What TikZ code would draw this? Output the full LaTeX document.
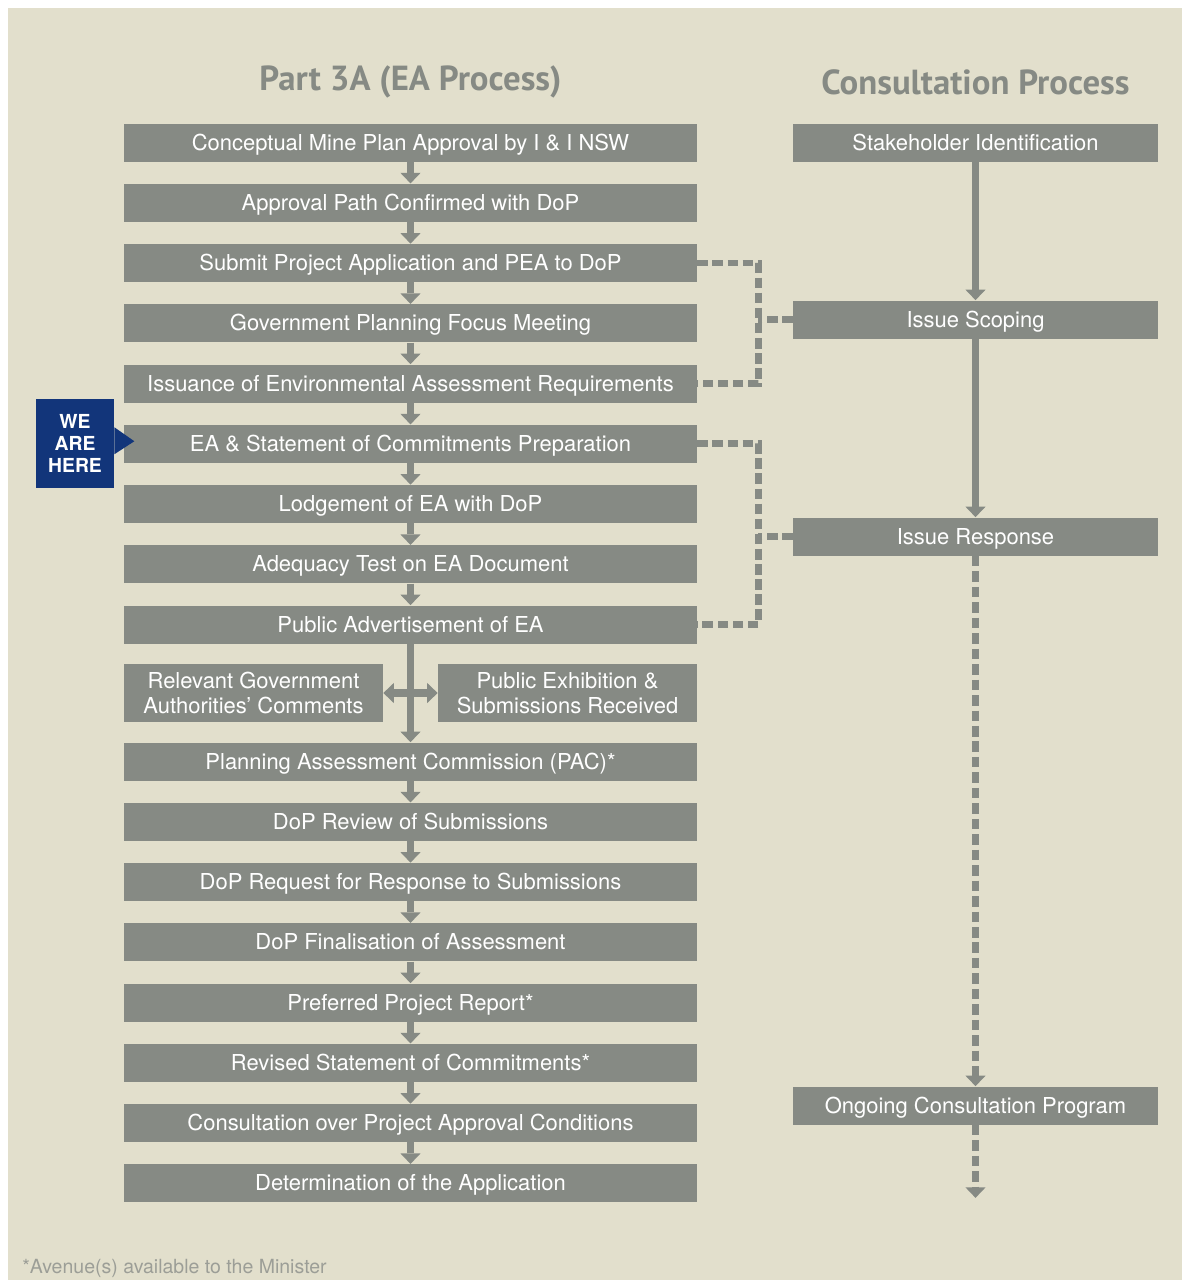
\documentclass[tikz,border=0pt]{standalone}
\usepackage{fontspec}
\setmainfont{TeX Gyre Heros}
\newfontfamily\titlefont{PT Sans}
\usetikzlibrary{arrows.meta}
\definecolor{bgbeige}{HTML}{E2DFCC}
\definecolor{boxgrey}{HTML}{868A84}
\definecolor{navy}{HTML}{12357A}
\definecolor{notegrey}{HTML}{9C9E97}
\tikzstyle{boxbase} = [rectangle, inner sep=0pt, text centered, fill=boxgrey, text=white, font=\fontsize{12.5}{14}\selectfont]
\tikzstyle{stage} = [boxbase, minimum width=11.46cm, minimum height=0.76cm, text height=9.6pt, text depth=1pt]
\tikzstyle{halfstage} = [boxbase, minimum width=5.18cm, minimum height=1.16cm, align=center]
\tikzstyle{consult} = [stage, minimum width=7.3cm]
\tikzstyle{heading} = [text=boxgrey, font=\titlefont\bfseries\fontsize{19.8}{22}\selectfont]
\tikzstyle{marker} = [rectangle, minimum width=1.56cm, minimum height=1.78cm, inner sep=0pt, fill=navy, text=white, align=center, font=\bfseries\fontsize{11}{12.5}\selectfont]
\tikzstyle{remark} = [text=notegrey, inner sep=0pt, font=\fontsize{11.1}{13}\selectfont]
\tikzstyle{arrow} = [line width=4.2pt, draw=boxgrey, ->, >={Triangle[width=11.5pt,length=6pt,line width=0pt]}]
\tikzstyle{dasharrow} = [arrow, dash pattern=on 6pt off 2.8pt]
\tikzstyle{link} = [line width=3.8pt, draw=boxgrey, dash pattern=on 6pt off 2.6pt]

\begin{document}
\begin{tikzpicture}[node distance = 1.205cm]

\fill [bgbeige] (0.16,-0.16) rectangle (23.64,-25.6);
\useasboundingbox (0,0) rectangle (23.64,-25.6);

\node (ea1) [stage] at (8.21,-2.85) {Conceptual Mine Plan Approval by I \& I NSW};
\node (ea2) [stage, below of=ea1] {Approval Path Confirmed with DoP};
\node (ea3) [stage, below of=ea2] {Submit Project Application and PEA to DoP};
\node (ea4) [stage, below of=ea3] {Government Planning Focus Meeting};
\node (ea5) [stage, below of=ea4] {Issuance of Environmental Assessment Requirements};
\node (ea6) [stage, below of=ea5] {EA \& Statement of Commitments Preparation};
\node (ea7) [stage, below of=ea6] {Lodgement of EA with DoP};
\node (ea8) [stage, below of=ea7] {Adequacy Test on EA Document};
\node (ea9) [stage, below of=ea8] {Public Advertisement of EA};
\node (rga) [halfstage, below of=ea9, xshift=-3.14cm, yshift=-0.165cm] {Relevant Government\\Authorities’ Comments};
\node (pub) [halfstage, below of=ea9, xshift=3.14cm, yshift=-0.165cm] {Public Exhibition \&\\Submissions Received};
\node (ea11) [stage, below of=ea9, yshift=-1.535cm] {Planning Assessment Commission (PAC)*};
\node (ea12) [stage, below of=ea11] {DoP Review of Submissions};
\node (ea13) [stage, below of=ea12] {DoP Request for Response to Submissions};
\node (ea14) [stage, below of=ea13] {DoP Finalisation of Assessment};
\node (ea15) [stage, below of=ea14] {Preferred Project Report*};
\node (ea16) [stage, below of=ea15] {Revised Statement of Commitments*};
\node (ea17) [stage, below of=ea16] {Consultation over Project Approval Conditions};
\node (ea18) [stage, below of=ea17] {Determination of the Application};

\node (stake) [consult, right of=ea1, xshift=10.095cm] {Stakeholder Identification};
\node (scope) [consult, below of=stake, yshift=-2.335cm] {Issue Scoping};
\node (resp) [consult, below of=scope, yshift=-3.135cm] {Issue Response};
\node (ongo) [consult, below of=resp, yshift=-10.175cm] {Ongoing Consultation Program};

\node (title1) [heading, above of=ea1] {Part 3A (EA Process)};
\node (title2) [heading, above of=stake] {Consultation Process};

\node (here) [marker, left of=ea6, xshift=-5.505cm] {WE\\ARE\\HERE};
\fill [navy] ([yshift=0.33cm]here.east) -- ([xshift=0.4cm,yshift=0.05cm]here.east) -- ([yshift=-0.21cm]here.east) -- cycle;

\node (avenue) [remark, anchor=base west] at (0.44,-25.46) {*Avenue(s) available to the Minister};

%% arrows
\draw [arrow] (ea1) -- (ea2);
\draw [arrow] (ea2) -- (ea3);
\draw [arrow] (ea3) -- (ea4);
\draw [arrow] (ea4) -- (ea5);
\draw [arrow] (ea5) -- (ea6);
\draw [arrow] (ea6) -- (ea7);
\draw [arrow] (ea7) -- (ea8);
\draw [arrow] (ea8) -- (ea9);
\draw [arrow] (ea9) -- (ea11);
\draw [arrow, <->] (rga) -- (pub);
\draw [arrow] (ea11) -- (ea12);
\draw [arrow] (ea12) -- (ea13);
\draw [arrow] (ea13) -- (ea14);
\draw [arrow] (ea14) -- (ea15);
\draw [arrow] (ea15) -- (ea16);
\draw [arrow] (ea16) -- (ea17);
\draw [arrow] (ea17) -- (ea18);

\draw [arrow] (stake) -- (scope);
\draw [arrow] (scope) -- (resp);
\draw [dasharrow] (resp) -- (ongo);
\coordinate (tail) at ([yshift=-1.46cm]ongo.south);
\draw [dasharrow] (ongo) -- (tail);

%% dashed links to the consultation side
\coordinate (j1) at ([xshift=1.22cm]ea3.east);
\draw [link] (ea3.east) -- (j1) |- (ea5.east);
\draw [link] (scope.west) -- (scope.west -| j1);
\coordinate (j2) at ([xshift=1.22cm]ea6.east);
\draw [link] (ea6.east) -- (j2) |- (ea9.east);
\draw [link] (resp.west) -- (resp.west -| j2);

\end{tikzpicture}
\end{document}
